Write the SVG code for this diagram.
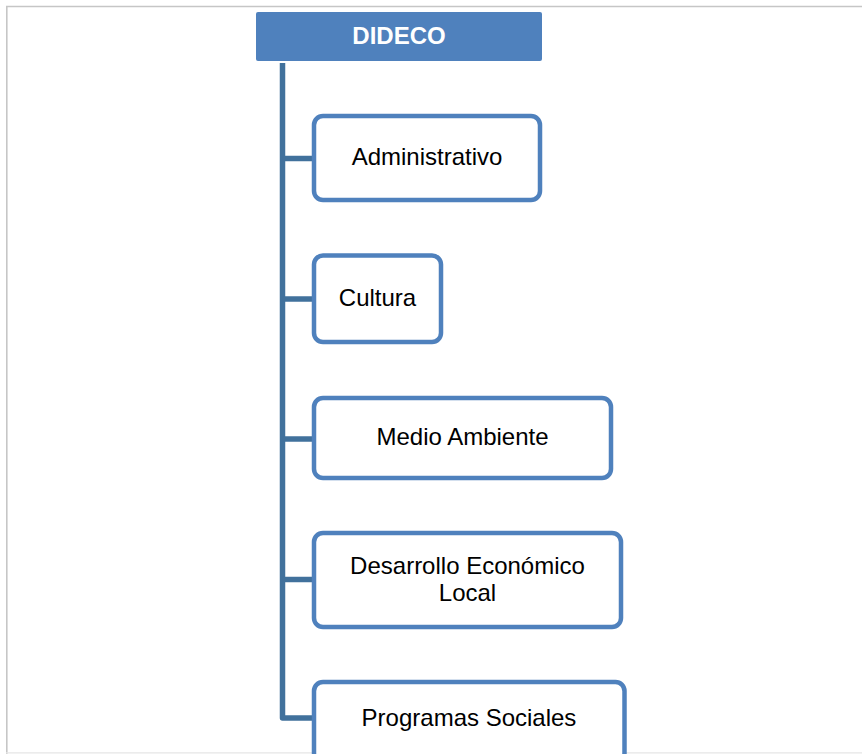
<svg xmlns="http://www.w3.org/2000/svg" width="862" height="754" viewBox="0 0 862 754">
  <style>
    .frame { stroke: #c6c6c6; stroke-width: 1.6; fill: none; }
    .node { fill: #ffffff; stroke: #4f81bd; stroke-width: 4.5; }
    .label { font-family: "Liberation Sans", Arial, sans-serif; font-size: 24px; fill: #000000; text-anchor: middle; }
    .head { fill: #4f81bd; }
    .headlabel { font-family: "Liberation Sans", Arial, sans-serif; font-size: 24px; font-weight: bold; fill: #ffffff; text-anchor: middle; }
    .conn { stroke: #41719c; stroke-width: 5.5; fill: none; stroke-linejoin: round; }
  </style>
  <rect width="862" height="754" fill="#ffffff"/>
  <g id="frame">
    <line class="frame" x1="6" y1="6.5" x2="862" y2="6.5"/>
    <line class="frame" x1="6.8" y1="6" x2="6.8" y2="754"/>
    <line x1="6" y1="752.8" x2="862" y2="752.8" stroke="#e6e6e6" stroke-width="1.2"/>
  </g>
  <g id="connectors">
    <path class="conn" d="M282.5,63 V718 H314"/>
    <line class="conn" x1="282.5" y1="158.5" x2="314" y2="158.5"/>
    <line class="conn" x1="282.5" y1="299" x2="314" y2="299"/>
    <line class="conn" x1="282.5" y1="439" x2="314" y2="439"/>
    <line class="conn" x1="282.5" y1="579.5" x2="314" y2="579.5"/>
  </g>
  <g id="dideco">
    <rect class="head" x="256" y="12" width="286" height="49" rx="2"/>
    <text class="headlabel" x="399" y="44">DIDECO</text>
  </g>
  <g id="administrativo">
    <rect class="node" x="314" y="116" width="226" height="84" rx="9"/>
    <text class="label" x="427" y="165">Administrativo</text>
  </g>
  <g id="cultura">
    <rect class="node" x="314" y="255.5" width="127" height="86.5" rx="9"/>
    <text class="label" x="377.5" y="305.5">Cultura</text>
  </g>
  <g id="medio-ambiente">
    <rect class="node" x="314" y="398" width="297" height="80" rx="9"/>
    <text class="label" x="462.5" y="445">Medio Ambiente</text>
  </g>
  <g id="desarrollo">
    <rect class="node" x="314" y="533" width="307" height="94" rx="9"/>
    <text class="label" x="467.5" y="574">Desarrollo Económico</text>
    <text class="label" x="467.5" y="601">Local</text>
  </g>
  <g id="programas">
    <rect class="node" x="314" y="682" width="310.5" height="80" rx="9"/>
    <text class="label" x="469" y="726">Programas Sociales</text>
  </g>
</svg>
